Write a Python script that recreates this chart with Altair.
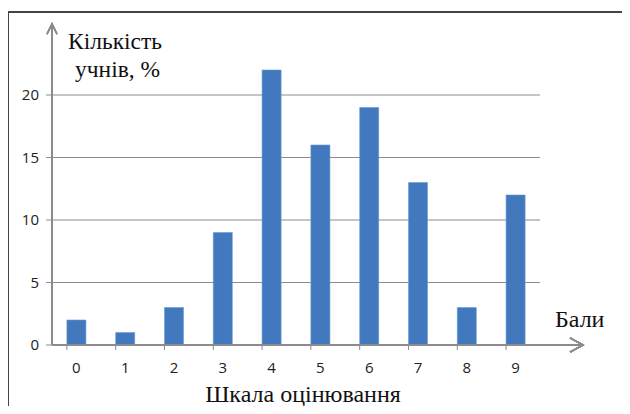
import altair as alt
import pandas as pd

categories = ["0", "1", "2", "3", "4", "5", "6", "7", "8", "9"]
values = [2, 1, 3, 9, 22, 16, 19, 13, 3, 12]
y_ticks = [0, 5, 10, 15, 20]

df = pd.DataFrame({"cat": categories, "val": values})
grid_df = pd.DataFrame({"v": y_ticks, "lab": [str(v) for v in y_ticks]})

W, H = 488, 320
BLUE = "#4178be"
GRAY = "#8c8c8c"
SERIF = "Liberation Serif"
SANS = "Open Sans"

xscale = alt.Scale(domain=categories, paddingInner=0.61, paddingOuter=0.305)
yscale = alt.Scale(domain=[0, 25.6], nice=False, zero=True)

base = alt.Chart(df)

bars = base.mark_bar(color=BLUE, stroke="#6a9ad3", strokeWidth=0.6).encode(
    x=alt.X("cat:N", scale=xscale, sort=categories, axis=None),
    y=alt.Y("val:Q", scale=yscale, axis=None),
)

grid = alt.Chart(grid_df).mark_rule(color=GRAY, strokeWidth=1.2).encode(
    y=alt.Y("v:Q", scale=yscale, axis=None),
    x=alt.value(-6), x2=alt.value(W),
)

ylabels = alt.Chart(grid_df).mark_text(font=SANS, fontSize=15, color="#222",
                                       align="right", baseline="middle").encode(
    y=alt.Y("v:Q", scale=yscale, axis=None),
    x=alt.value(-13),
    text="lab:N",
)

xlabels = base.mark_text(font=SANS, fontSize=15, color="#222",
                         align="center", baseline="middle").encode(
    x=alt.X("cat:N", scale=xscale, sort=categories, axis=None),
    y=alt.value(H + 23),
    text="cat:N",
)

xticks = base.mark_rule(color=GRAY, strokeWidth=1).encode(
    x=alt.X("cat:N", scale=xscale, sort=categories, bandPosition=0, axis=None),
    y=alt.value(H), y2=alt.value(H + 5),
)

xaxis_line = base.mark_rule(color=GRAY, strokeWidth=1.2).encode(
    x=alt.value(0), x2=alt.value(531), y=alt.value(H),
)
yaxis_line = base.mark_rule(color=GRAY, strokeWidth=1.2).encode(
    x=alt.value(0), y=alt.value(-1), y2=alt.value(H),
)

x_arrow = base.mark_point(shape="M -1 -0.55 L 0 0 L -1 0.55", filled=False,
                          stroke=GRAY, strokeWidth=1.3, size=676, opacity=1).encode(
    x=alt.value(531), y=alt.value(H),
)
y_arrow = base.mark_point(shape="M -0.5 1 L 0 0 L 0.5 1", filled=False,
                          stroke=GRAY, strokeWidth=1.3, size=400, opacity=1).encode(
    x=alt.value(0), y=alt.value(-1),
)

def label(txt, x, y, size=24, align="left"):
    return alt.Chart(pd.DataFrame({"t": [txt]})).mark_text(
        font=SERIF, fontSize=size, color="#111", align=align, baseline="middle"
    ).encode(text="t:N", x=alt.value(x), y=alt.value(y))

t1 = label("Кількість", 16, 17, size=23.5)
t2 = label("учнів, %", 23, 45, size=23.5)
t3 = label("Бали", 503, 295)
t4 = label("Шкала оцінювання", 251, 370, align="center")

frame_top = base.mark_rule(color="#444", strokeWidth=1.6).encode(
    x=alt.value(-44), x2=alt.value(W + 120), y=alt.value(-13),
)
frame_left = base.mark_rule(color="#444", strokeWidth=1.6).encode(
    x=alt.value(-44), y=alt.value(-13), y2=alt.value(H + 120),
)

chart = alt.layer(frame_top, frame_left, grid, bars, xticks, xaxis_line, yaxis_line,
                  x_arrow, y_arrow, ylabels, xlabels, t1, t2, t3, t4).properties(
    width=W, height=H,
    background="white",
    autosize=alt.AutoSizeParams(type="none"),
    padding={"left": 44, "top": 17, "right": 82, "bottom": 61},
).configure_view(strokeWidth=0)

chart.save("out.html", embed_options={"renderer": "svg", "actions": False})
